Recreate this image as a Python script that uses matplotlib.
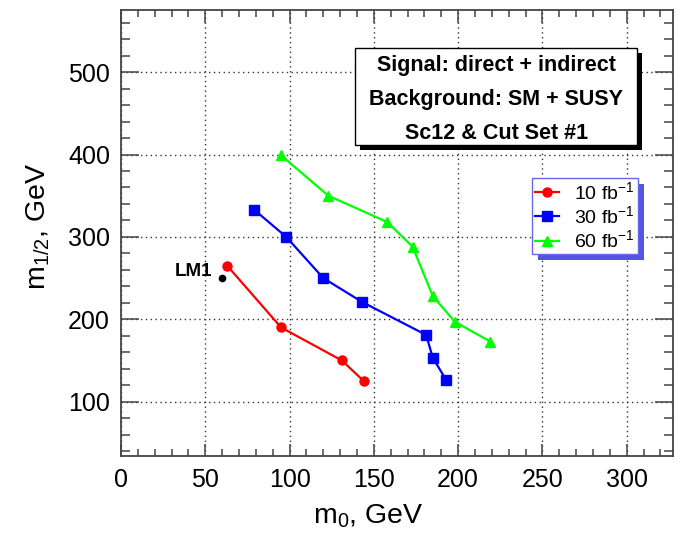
import numpy as np
import matplotlib.pyplot as plt
from matplotlib.patches import Rectangle
from matplotlib.ticker import MultipleLocator

plt.rcParams['font.family'] = ['Liberation Sans', 'DejaVu Sans']
plt.rcParams['mathtext.fontset'] = 'custom'
plt.rcParams['mathtext.rm'] = 'Liberation Sans'
plt.rcParams['mathtext.it'] = 'Liberation Sans'

# Données (m0, m1/2 en GeV)
m0_10 = [63, 95, 131, 144]
m12_10 = [265, 190, 150, 125]
m0_30 = [79, 98, 120, 143, 181, 185, 193]
m12_30 = [333, 300, 250, 221, 181, 153, 126]
m0_60 = [95, 123, 158, 173, 185, 198, 219]
m12_60 = [399, 350, 318, 288, 228, 197, 173]
lm1_m0, lm1_m12 = 60, 250
labels = ['10 fb$^{-1}$', '30 fb$^{-1}$', '60 fb$^{-1}$']
box_lines = ['Signal: direct + indirect', 'Background: SM + SUSY', 'Sc12 & Cut Set #1']

fig = plt.figure(figsize=(6.86, 5.35), dpi=100)
ax = fig.add_axes([0.1764, 0.1477, 0.805, 0.8336])

ax.plot(m0_10, m12_10, '-o', color='#ff0000', lw=1.6, ms=6.5, label=labels[0], zorder=3)
ax.plot(m0_30, m12_30, '-s', color='#0000ff', lw=1.6, ms=6.5, label=labels[1], zorder=3)
ax.plot(m0_60, m12_60, '-^', color='#00ff00', lw=1.6, ms=7, label=labels[2], zorder=3)
ax.plot(lm1_m0, lm1_m12, 'o', color='black', ms=4.5, zorder=3)
ax.text(lm1_m0 - 6, lm1_m12 + 8, 'LM1', ha='right', va='center',
        fontsize=13.5, fontweight='bold')

ax.set_xlim(0, 327.6)
ax.set_ylim(34, 575.5)
ax.xaxis.set_major_locator(MultipleLocator(50))
ax.xaxis.set_minor_locator(MultipleLocator(10))
ax.yaxis.set_major_locator(MultipleLocator(100))
ax.yaxis.set_minor_locator(MultipleLocator(20))
ax.tick_params(which='both', direction='in', top=True, right=True,
               colors='#444444', labelcolor='black', labelsize=18, width=1.1)
ax.tick_params(axis='x', which='major', length=9, pad=9)
ax.tick_params(axis='x', which='minor', length=5)
ax.tick_params(axis='y', which='major', length=13, pad=8)
ax.tick_params(axis='y', which='minor', length=6.5)
for s in ax.spines.values():
    s.set_color('#444444')
    s.set_linewidth(1.3)
ax.grid(True, which='major', ls=(0, (1, 2.5)), color='#333333', lw=1.0)

ax.set_xlabel('m$_0$, GeV', fontsize=20.5)
ax.set_ylabel('m$_{1/2}$, GeV', fontsize=20.5)
ax.xaxis.set_label_coords(0.447, -0.105)
ax.yaxis.set_label_coords(-0.125, 0.515)

# Boîte de texte avec ombre
bx0, bx1, by0, by1 = 0.424, 0.935, 0.697, 0.914
ax.add_patch(Rectangle((bx0 + 0.009, by0 - 0.011), bx1 - bx0, by1 - by0,
                       transform=ax.transAxes, facecolor='black', zorder=5))
ax.add_patch(Rectangle((bx0, by0), bx1 - bx0, by1 - by0, transform=ax.transAxes,
                       facecolor='white', edgecolor='black', lw=1.0, zorder=6))
for i, line in enumerate(box_lines):
    ax.text((bx0 + bx1) / 2, 0.876 - i * 0.076, line, transform=ax.transAxes,
            ha='center', va='center', fontsize=15.5, fontweight='bold', zorder=7)

leg = ax.legend(loc='upper left', bbox_to_anchor=(0.745, 0.623), borderaxespad=0,
                fontsize=14, handlelength=1.2, handletextpad=0.8, labelspacing=0.12,
                borderpad=0.15, fancybox=False, framealpha=1, edgecolor='#6666ee')
leg.get_frame().set_linewidth(1.0)
leg.set_zorder(8)

fig.canvas.draw()
bb = leg.get_window_extent().transformed(ax.transAxes.inverted())
ax.add_patch(Rectangle((bb.x0 + 0.011, bb.y0 - 0.013), bb.width, bb.height,
                       transform=ax.transAxes, facecolor='#5555dd', zorder=7.5))

fig.savefig('out.png', dpi=100)
